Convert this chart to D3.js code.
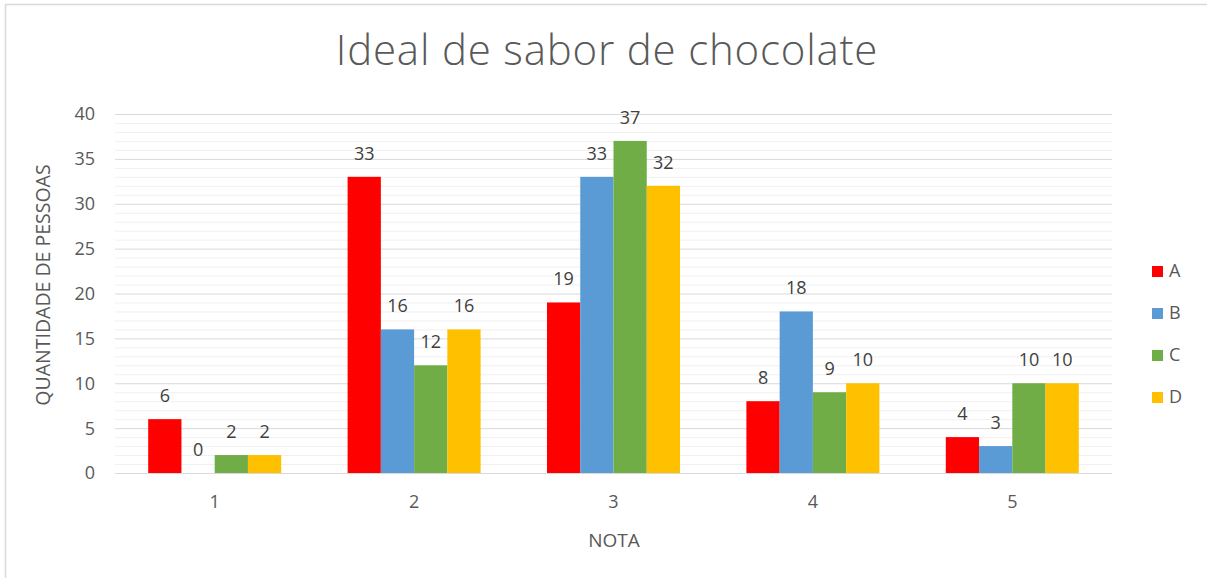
<!DOCTYPE html>
<html><head><meta charset="utf-8">
<script src="https://cdn.jsdelivr.net/npm/d3@7"></script>
<style>body{margin:0;background:#fff;}svg{display:block;}</style>
</head><body>
<svg id="c" width="1207" height="578"></svg>
<script>
const categories = ["1", "2", "3", "4", "5"];
const seriesNames = ["A", "B", "C", "D"];
const valuesA = [6, 33, 19, 8, 4];
const valuesB = [0, 16, 33, 18, 3];
const valuesC = [2, 12, 37, 9, 10];
const valuesD = [2, 16, 32, 10, 10];
const colors = ["#ff0000", "#5b9bd5", "#70ad47", "#ffc000"];
const yTicks = [0, 5, 10, 15, 20, 25, 30, 35, 40];

const series = [valuesA, valuesB, valuesC, valuesD];
const svg = d3.select("#c");
const font = "'Open Sans', sans-serif";
const txt = "#595959";

// frame
svg.append("rect").attr("x", 5.5).attr("y", 4.5).attr("width", 1220).attr("height", 600)
  .attr("fill", "#fff").attr("stroke", "#d9d9d9").attr("stroke-width", 1.5);

const L = 115, R = 1112, T = 114, B = 473;
const x = d3.scaleBand().domain(categories).range([L, R]).paddingInner(0.333).paddingOuter(0.1665);
const xs = d3.scaleBand().domain(seriesNames).range([0, x.bandwidth()]);
const y = d3.scaleLinear().domain([0, 40]).range([B, T]);

// gridlines
const g = svg.append("g");
g.selectAll("line.minor").data(d3.range(0, 41).filter(v => v % 5 !== 0)).join("line")
  .attr("x1", L).attr("x2", R).attr("y1", d => y(d) + 0.5).attr("y2", d => y(d) + 0.5)
  .attr("stroke", "#f0f0f0").attr("stroke-width", 1);
g.selectAll("line.major").data(yTicks).join("line")
  .attr("x1", L).attr("x2", R).attr("y1", d => y(d) + 0.5).attr("y2", d => y(d) + 0.5)
  .attr("stroke", "#d9d9d9").attr("stroke-width", 1);

// y tick labels
svg.append("g").selectAll("text").data(yTicks).join("text")
  .attr("x", 95).attr("y", d => y(d)).attr("dy", "0.36em").attr("text-anchor", "end")
  .attr("font-family", font).attr("font-size", 18).attr("fill", txt).text(d => d);

// bars
series.forEach((vals, si) => {
  const gg = svg.append("g");
  gg.selectAll("rect").data(vals).join("rect")
    .attr("x", (d, i) => x(categories[i]) + xs(seriesNames[si]))
    .attr("y", d => y(d)).attr("width", xs.bandwidth()).attr("height", d => B - y(d))
    .attr("fill", colors[si]);
  gg.selectAll("text").data(vals).join("text")
    .attr("x", (d, i) => x(categories[i]) + xs(seriesNames[si]) + xs.bandwidth() / 2)
    .attr("y", d => y(d) - 17).attr("text-anchor", "middle")
    .attr("font-family", font).attr("font-size", 18).attr("fill", "#404040").text(d => d);
});

// x labels
svg.append("g").selectAll("text").data(categories).join("text")
  .attr("x", d => x(d) + x.bandwidth() / 2).attr("y", 508).attr("text-anchor", "middle")
  .attr("font-family", font).attr("font-size", 18).attr("fill", txt).text(d => d);

// titles
svg.append("text").attr("x", 607).attr("y", 65).attr("text-anchor", "middle")
  .attr("font-family", font).attr("font-weight", 300).attr("font-size", 42)
  .attr("letter-spacing", 0.8).attr("fill", txt)
  .text("Ideal de sabor de chocolate");
svg.append("text").attr("x", 614).attr("y", 547).attr("text-anchor", "middle")
  .attr("font-family", font).attr("font-size", 19).attr("fill", txt).text("NOTA");
svg.append("text").attr("transform", "translate(50,285) rotate(-90)").attr("text-anchor", "middle")
  .attr("font-family", font).attr("font-size", 19.5).attr("fill", txt).text("QUANTIDADE DE PESSOAS");

// legend
const lg = svg.append("g").selectAll("g").data(seriesNames).join("g")
  .attr("transform", (d, i) => `translate(1152,${271 + i * 42})`);
lg.append("rect").attr("x", 0).attr("y", -5).attr("width", 11).attr("height", 11).attr("fill", (d, i) => colors[i]);
lg.append("text").attr("x", 17).attr("y", 0).attr("dy", "0.36em")
  .attr("font-family", font).attr("font-size", 18).attr("fill", txt).text(d => d);
</script>
</body></html>
